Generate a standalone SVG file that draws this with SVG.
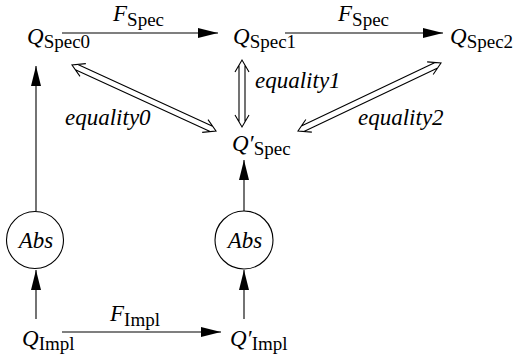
<svg xmlns="http://www.w3.org/2000/svg" width="515" height="359" viewBox="0 0 515 359">
<defs>
<marker id="ah" markerUnits="userSpaceOnUse" markerWidth="20" markerHeight="10" refX="20" refY="5" orient="auto" viewBox="0 0 20 10">
<path d="M0,0 L20,5 L0,10 z" fill="#000"/>
</marker>
</defs>
<style>
.m{font-size:23px;font-style:italic}
.s{font-size:19px;font-style:normal}
.arr{stroke:#000;stroke-width:1.1;fill:none;marker-end:url(#ah)}
.dbl{stroke:#000;stroke-width:1.1;fill:none}
.c{fill:#fff;stroke:#000;stroke-width:1.1}
</style>
<rect width="515" height="359" fill="#fff"/>
<g font-family="Liberation Serif, Times New Roman, DejaVu Serif, serif" fill="#000">
<g id="connectors">
<line class="arr" x1="62" y1="33" x2="218" y2="33"/>
<line class="arr" x1="285" y1="33" x2="443" y2="33"/>
<line class="arr" x1="62" y1="332" x2="221" y2="332"/>
<line class="arr" x1="36" y1="211" x2="36" y2="66"/>
<line class="arr" x1="36" y1="319" x2="36" y2="270"/>
<line class="arr" x1="244" y1="211" x2="244" y2="160"/>
<line class="arr" x1="244" y1="319" x2="244" y2="270"/>
<path class="dbl" d="M75.42,69.87 L210.08,131.59 M77.92,64.41 L212.58,126.13 M79.99,76.36 L72,65 L85.83,63.64 M202.17,132.36 L216,131 L208.01,119.64"/>
<path class="dbl" d="M239,65.14 L239,121.86 M245,65.14 L245,121.86 M235,72 L242,60 L249,72 M235,115 L242,127 L249,115"/>
<path class="dbl" d="M435.07,62.50 L301.35,126.08 M437.65,67.92 L303.93,131.50 M427.15,61.83 L441,63 L433.17,74.47 M305.83,119.53 L298,131 L311.85,132.17"/>
<text class="m" x="113" y="21">F<tspan class="s" dy="5">Spec</tspan></text>
<text class="m" x="338" y="21">F<tspan class="s" dy="5">Spec</tspan></text>
<text class="m" x="110" y="321">F<tspan class="s" dy="5">Impl</tspan></text>
<text class="m" x="65" y="125">equality0</text>
<text class="m" x="255" y="88">equality1</text>
<text class="m" x="358" y="125">equality2</text>
</g>
<g id="QSpec0"><text class="m" x="27" y="44">Q<tspan class="s" dy="4">Spec0</tspan></text></g>
<g id="QSpec1"><text class="m" x="233" y="44">Q<tspan class="s" dy="4">Spec1</tspan></text></g>
<g id="QSpec2"><text class="m" x="450" y="44">Q<tspan class="s" dy="4">Spec2</tspan></text></g>
<g id="QSpecPrime"><text class="m" x="232" y="151">Q′<tspan class="s" dy="4">Spec</tspan></text></g>
<g id="Abs0"><circle class="c" cx="35" cy="240" r="28.5"/><text class="m" x="36" y="248" text-anchor="middle">Abs</text></g>
<g id="Abs1"><circle class="c" cx="244" cy="240" r="29"/><text class="m" x="245" y="248" text-anchor="middle">Abs</text></g>
<g id="QImpl"><text class="m" x="22" y="346">Q<tspan class="s" dy="4">Impl</tspan></text></g>
<g id="QImplPrime"><text class="m" x="230" y="346">Q′<tspan class="s" dy="4">Impl</tspan></text></g>
</g>
</svg>
